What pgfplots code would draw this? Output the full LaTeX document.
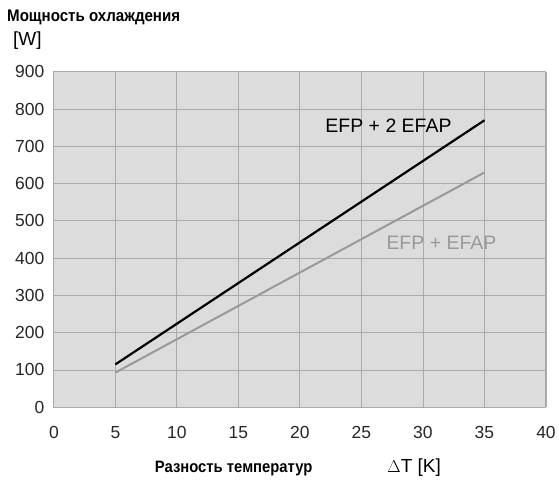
\documentclass[border=0pt]{standalone}
\usepackage{fontspec}
\setmainfont{Liberation Sans}
\newfontfamily\condbold[FakeStretch=0.9]{Liberation Sans Bold}
\usepackage{pgfplots}
\pgfplotsset{compat=1.18}

\definecolor{plotbg}{HTML}{DCDCDC}
\definecolor{gridc}{HTML}{ABABAB}
\definecolor{lightline}{HTML}{999999}

\begin{document}
\begin{tikzpicture}[x=1pt,y=1pt]
  % page frame (1pt = 1px of the reference)
  \path (-54,-78) rectangle (505,408);
  \begin{axis}[
      at={(0,0)}, anchor=south west,
      scale only axis,
      width=493pt, height=336pt,
      xmin=0, xmax=40, ymin=0, ymax=900,
      xtick={0,5,...,40},
      ytick={0,100,...,900},
      major tick length=0pt,
      grid=major,
      grid style={gridc, line width=0.9pt},
      axis line style={gridc, line width=1pt},
      axis background/.style={fill=plotbg},
      ticklabel style={font=\fontsize{17.5}{19}\selectfont, text=black!85},
      /pgf/number format/assume math mode=true,
      xticklabel style={yshift=-16pt},
      yticklabel style={xshift=-6pt},
      clip=false,
    ]
    \addplot[black, line width=2.2pt] coordinates {(5,115) (35,770)};
    \addplot[lightline, line width=2pt] coordinates {(5,93) (35,630)};
    \node[font=\fontsize{19.5}{21}\selectfont] at (axis cs:27.2,755) {EFP + 2 EFAP};
    \node[font=\fontsize{19.5}{21}\selectfont, text=lightline] at (axis cs:31.5,440) {EFP + EFAP};
  \end{axis}
  \node[anchor=west, inner sep=0pt, font=\condbold\fontsize{16.8}{18}\selectfont] at (-47,391) {Мощность охлаждения};
  \node[anchor=west, inner sep=0pt, font=\fontsize{19}{21}\selectfont] at (-41,367) {[W]};
  \node[anchor=west, inner sep=0pt, font=\condbold\fontsize{16.5}{18}\selectfont] at (101,-61) {Разность температур};
  \node[anchor=west, inner sep=0pt, font=\fontsize{19}{21}\selectfont] at (334,-60) {$\Delta$T [K]};
\end{tikzpicture}
\end{document}
